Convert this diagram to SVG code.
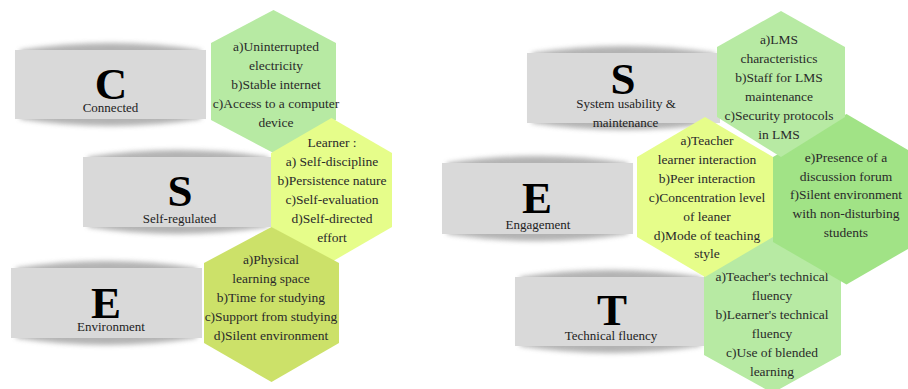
<svg xmlns="http://www.w3.org/2000/svg" width="908" height="389" viewBox="0 0 908 389">
<defs>
<filter id="blur" x="-10%" y="-30%" width="120%" height="160%"><feGaussianBlur stdDeviation="2.5"/></filter>
<style>
.box{fill:#d9d9d9}
.shadow{fill:#9a9a9a;opacity:.75;filter:url(#blur)}
.big{font-family:"Liberation Serif","Times New Roman",serif;font-weight:bold;font-size:45px;fill:#000;text-anchor:middle}
.lab{font-family:"Liberation Serif","Times New Roman",serif;font-size:13px;fill:#222;text-anchor:middle}
.ht{font-family:"Liberation Serif","Times New Roman",serif;font-size:13.5px;fill:#2a2a2a;text-anchor:middle}
.g1{fill:#b7eaa3}
.y1{fill:#e6fd8a}
.o1{fill:#cce169}
.g2{fill:#a1e386}
</style>
</defs>
<rect width="908" height="389" fill="#ffffff"/>

<g id="box-C">
<path class="shadow" d="M20,50 Q110.5,36 201,50 L201,119 Q110.5,133 20,119 Z"/>
<rect class="box" x="15" y="50" width="191" height="69"/>
<text class="big" x="111" y="99">C</text>
<text class="lab" x="110.5" y="112">Connected</text>
</g>
<g id="box-S-left">
<path class="shadow" d="M88,157 Q178,143 268,157 L268,227 Q178,241 88,227 Z"/>
<rect class="box" x="83" y="157" width="190" height="70"/>
<text class="big" x="180" y="206">S</text>
<text class="lab" x="179.5" y="223">Self-regulated</text>
</g>
<g id="box-E-left">
<path class="shadow" d="M16,268 Q106.5,254 197,268 L197,338 Q106.5,352 16,338 Z"/>
<rect class="box" x="11" y="268" width="191" height="70"/>
<text class="big" x="106" y="318">E</text>
<text class="lab" x="111" y="331">Environment</text>
</g>

<g id="box-S-right">
<path class="shadow" d="M532,53 Q623.5,39 715,53 L715,123 Q623.5,137 532,123 Z"/>
<rect class="box" x="527" y="53" width="193" height="70"/>
<text class="big" x="623" y="94">S</text>
<text class="lab" x="626" y="108">System usability &amp;</text>
<text class="lab" x="625.5" y="127">maintenance</text>
</g>
<g id="box-E-right">
<path class="shadow" d="M447,163 Q537.5,149 628,163 L628,234 Q537.5,248 447,234 Z"/>
<rect class="box" x="442" y="163" width="191" height="71"/>
<text class="big" x="537" y="213">E</text>
<text class="lab" x="538" y="229">Engagement</text>
</g>
<g id="box-T">
<path class="shadow" d="M520,277 Q610.5,263 701,277 L701,346 Q610.5,360 520,346 Z"/>
<rect class="box" x="515" y="277" width="191" height="69"/>
<text class="big" x="612" y="325">T</text>
<text class="lab" x="611" y="340">Technical fluency</text>
</g>

<g id="hex-connected">
<polygon class="g1" points="273.5,10 336,43 336,120 273.5,153 211,120 211,43"/>
<text class="ht" x="276" y="51">a)Uninterrupted</text>
<text class="ht" x="276" y="70">electricity</text>
<text class="ht" x="276" y="89">b)Stable internet</text>
<text class="ht" x="276" y="108">c)Access to a computer</text>
<text class="ht" x="276" y="127">device</text>
</g>
<g id="hex-self-regulated">
<polygon class="y1" points="331.5,118 392,153 392,227 331.5,262 271,227 271,153"/>
<text class="ht" x="332" y="147">Learner :</text>
<text class="ht" x="332" y="166">a) Self-discipline</text>
<text class="ht" x="332" y="185">b)Persistence nature</text>
<text class="ht" x="332" y="204">c)Self-evaluation</text>
<text class="ht" x="332" y="223">d)Self-directed</text>
<text class="ht" x="332" y="242">effort</text>
</g>
<g id="hex-environment">
<polygon class="o1" points="271.5,227 339,263 339,343 271.5,382 204,343 204,263"/>
<text class="ht" x="271" y="264">a)Physical</text>
<text class="ht" x="271" y="283">learning space</text>
<text class="ht" x="271" y="302">b)Time for studying</text>
<text class="ht" x="271" y="321">c)Support from studying</text>
<text class="ht" x="271" y="340">d)Silent environment</text>
</g>

<g id="hex-technical">
<polygon class="g1" points="772.5,233 841,269 841,355 772.5,393 704,355 704,269"/>
<text class="ht" x="772" y="281">a)Teacher's technical</text>
<text class="ht" x="772" y="300">fluency</text>
<text class="ht" x="772" y="319">b)Learner's technical</text>
<text class="ht" x="772" y="338">fluency</text>
<text class="ht" x="772" y="357">c)Use of blended</text>
<text class="ht" x="772" y="376">learning</text>
</g>
<g id="hex-engagement-2">
<polygon class="g2" points="846.5,114 920,157 920,242 846.5,284.5 773,242 773,157"/>
<text class="ht" x="846" y="162">e)Presence of a</text>
<text class="ht" x="846" y="181">discussion forum</text>
<text class="ht" x="846" y="199">f)Silent environment</text>
<text class="ht" x="846" y="218">with non-disturbing</text>
<text class="ht" x="846" y="237">students</text>
</g>
<g id="hex-engagement-1">
<polygon class="y1" points="705,117 773,157 773,237 705,277 637,237 637,157"/>
<text class="ht" x="707" y="145">a)Teacher</text>
<text class="ht" x="707" y="164">learner interaction</text>
<text class="ht" x="707" y="183">b)Peer interaction</text>
<text class="ht" x="707" y="202">c)Concentration level</text>
<text class="ht" x="707" y="221">of leaner</text>
<text class="ht" x="707" y="240">d)Mode of teaching</text>
<text class="ht" x="707" y="258">style</text>
</g>
<g id="hex-system">
<polygon class="g1" points="781,11 845,47 845,117 781,157 717,117 717,47"/>
<text class="ht" x="779" y="44">a)LMS</text>
<text class="ht" x="779" y="63">characteristics</text>
<text class="ht" x="779" y="82">b)Staff for LMS</text>
<text class="ht" x="779" y="101">maintenance</text>
<text class="ht" x="779" y="120">c)Security protocols</text>
<text class="ht" x="779" y="139">in LMS</text>
</g>
<g id="connectors"/>
</svg>
